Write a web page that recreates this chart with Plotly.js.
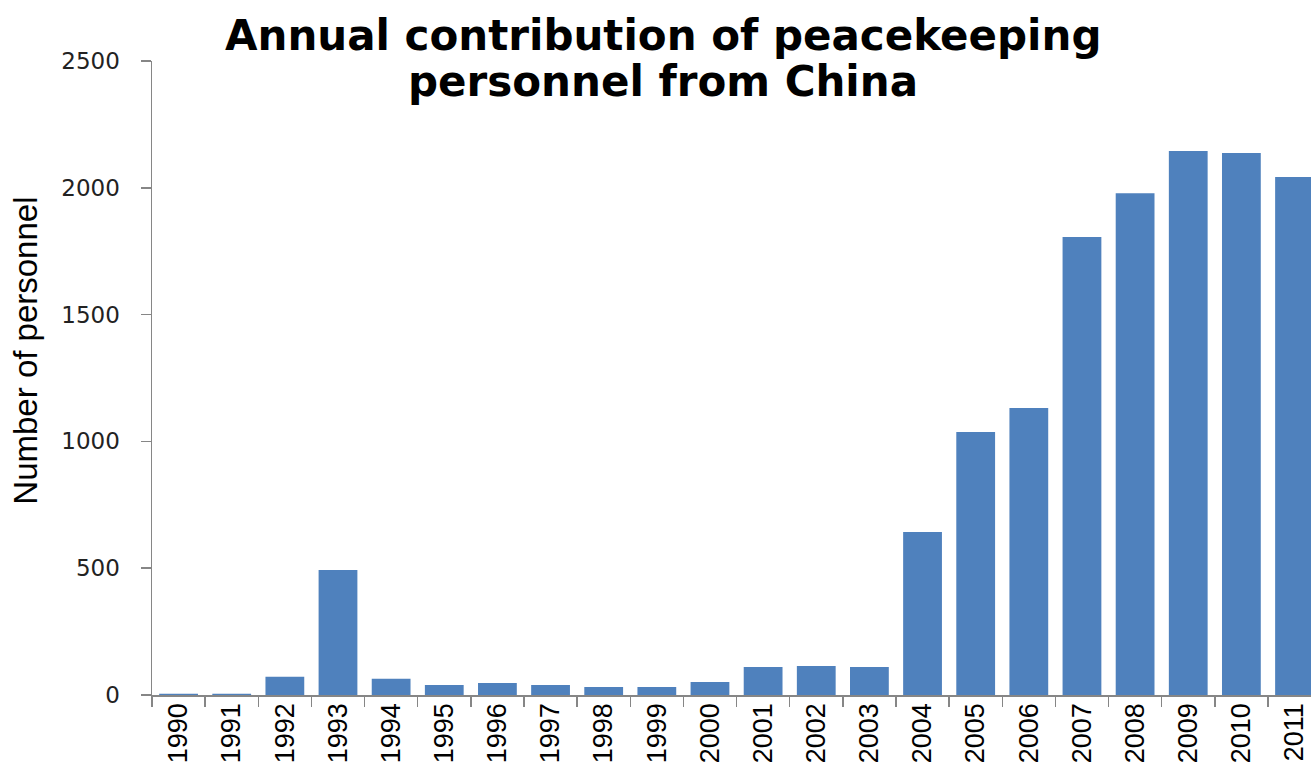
<!DOCTYPE html>
<html>
<head>
<meta charset="utf-8">
<script src="https://cdn.plot.ly/plotly-3.0.1.min.js"></script>
<style>html,body{margin:0;padding:0;background:#fff;}#chart{width:1311px;height:767px;}</style>
</head>
<body>
<div id="chart"></div>
<script>
const years = ["1990","1991","1992","1993","1994","1995","1996","1997","1998","1999","2000","2001","2002","2003","2004","2005","2006","2007","2008","2009","2010","2011"];
const personnel = [5, 5, 72, 493, 64, 39, 47, 39, 32, 32, 51, 110, 114, 110, 643, 1037, 1132, 1806, 1979, 2145, 2137, 2043];
const yTicks = [0, 500, 1000, 1500, 2000, 2500];
const titleLines = ["Annual contribution of peacekeeping", "personnel from China"];
const yTitle = "Number of personnel";

const trace = {
  type: 'bar',
  x: years,
  y: personnel,
  marker: {color: '#4F81BD', line: {width: 0}},
  hoverinfo: 'x+y'
};

const titleFont = {family: 'DejaVu Sans', size: 42, color: '#000000'};

const layout = {
  width: 1311,
  height: 767,
  margin: {l: 152, r: 0, t: 61, b: 72, pad: 0},
  paper_bgcolor: '#ffffff',
  plot_bgcolor: '#ffffff',
  bargap: 0.27,
  showlegend: false,
  xaxis: {
    type: 'category',
    range: [-0.5, 21.31],
    tickangle: -90,
    tickson: 'boundaries',
    ticks: 'outside',
    ticklen: 10,
    tickwidth: 1.5,
    tickcolor: '#868686',
    showline: true,
    linecolor: '#868686',
    linewidth: 1.5,
    showgrid: false,
    zeroline: false,
    automargin: false,
    ticklabelstandoff: -4,
    tickfont: {family: 'Liberation Sans', size: 27, color: '#000000'}
  },
  yaxis: {
    range: [0, 2500],
    tickvals: yTicks,
    ticktext: yTicks.map(String),
    ticks: 'outside',
    ticklen: 10,
    tickwidth: 1.5,
    tickcolor: '#868686',
    showline: true,
    linecolor: '#868686',
    linewidth: 1.5,
    showgrid: false,
    zeroline: false,
    automargin: false,
    ticklabelstandoff: 16,
    tickfont: {family: 'DejaVu Sans', size: 23, color: '#222222'}
  },
  annotations: [
    {
      text: '<b>' + titleLines[0] + '</b>',
      xref: 'paper', yref: 'paper',
      x: 0.4405, y: 1.041,
      xanchor: 'center', yanchor: 'middle',
      showarrow: false,
      font: titleFont
    },
    {
      text: '<b>' + titleLines[1] + '</b>',
      xref: 'paper', yref: 'paper',
      x: 0.4405, y: 0.967,
      xanchor: 'center', yanchor: 'middle',
      showarrow: false,
      font: titleFont
    },
    {
      text: yTitle,
      xref: 'paper', yref: 'paper',
      x: -0.109, y: 0.5426,
      xanchor: 'center', yanchor: 'middle',
      textangle: -90,
      showarrow: false,
      font: {family: 'Liberation Sans', size: 33, color: '#000000'}
    }
  ]
};

Plotly.newPlot('chart', [trace], layout, {displayModeBar: false, staticPlot: true});
</script>
</body>
</html>
